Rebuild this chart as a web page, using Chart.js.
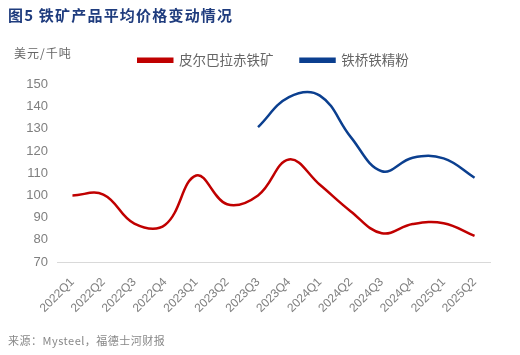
<!DOCTYPE html>
<html><head><meta charset="utf-8">
<script src="https://cdn.jsdelivr.net/npm/chart.js@4"></script>
<style>
html,body{margin:0;padding:0;background:#fff;}
#wrap{position:relative;width:520px;height:355px;overflow:hidden;}
#c{position:absolute;left:0;top:0;}
.t{position:absolute;white-space:nowrap;font-family:"Noto Sans CJK SC",sans-serif;}
#title{left:8px;top:4px;font-size:15px;font-weight:bold;color:#1F3C7E;letter-spacing:1.2px;}
#unit{left:14px;top:44px;font-size:12px;color:#666;letter-spacing:1px;}
#src{left:8px;top:332px;font-size:11px;color:#888;letter-spacing:0.5px;}
</style></head>
<body><div id="wrap">
<canvas id="c" width="520" height="355"></canvas>
<div class="t" id="title">图5 铁矿产品平均价格变动情况</div>
<div class="t" id="unit">美元/千吨</div>
<div class="t" id="src">来源：Mysteel，福德士河财报</div>
</div>
<script>
const categories = ["2022Q1","2022Q2","2022Q3","2022Q4","2023Q1","2023Q2","2023Q3","2023Q4","2024Q1","2024Q2","2024Q3","2024Q4","2025Q1","2025Q2"];
const pilbara = [100, 100.4, 87.3, 86.8, 109, 96, 100, 116.2, 104.8, 92.8, 83, 87.1, 87.5, 81.8];
const ironBridge = [null, null, null, null, null, null, 130.8, 144.3, 145, 126.3, 110.9, 117, 116.7, 108];
const seriesNames = ["皮尔巴拉赤铁矿", "铁桥铁精粉"];
const yMin = 70, yMax = 150, yStep = 10;

const legendPad = {
  id: 'legendPad',
  beforeLayout(chart){
    const lg = chart.legend;
    if (lg && !lg._wrapped){
      const f = lg.fit.bind(lg);
      lg.fit = function(){ f(); this.height += 7.5; };
      lg._wrapped = true;
    }
  }
};

new Chart(document.getElementById('c'), {
  type: 'line',
  data: {
    labels: categories,
    datasets: [
      {label: seriesNames[0], data: pilbara, borderColor: '#C00000', backgroundColor: '#C00000', borderWidth: 2.5, pointRadius: 0, tension: 0.4, fill: false},
      {label: seriesNames[1], data: ironBridge, borderColor: '#0B3F8F', backgroundColor: '#0B3F8F', borderWidth: 2.5, pointRadius: 0, tension: 0.4, fill: false}
    ]
  },
  options: {
    responsive: false,
    animation: false,
    devicePixelRatio: 1,
    layout: {padding: {left: 0, right: 30, top: 26.5, bottom: 0}},
    plugins: {
      legend: {
        display: true, position: 'top', align: 'center', fullSize: false,
        labels: {boxWidth: 34, boxHeight: 3, padding: 27, color: '#666',
                 font: {family: '"Noto Sans CJK SC", sans-serif', size: 13.5}}
      },
      tooltip: {enabled: false}
    },
    scales: {
      x: {
        offset: true,
        grid: {display: false, drawTicks: false},
        border: {display: true, color: '#D9D9D9', width: 1},
        ticks: {maxRotation: 45, minRotation: 45, color: '#7F7F7F', padding: 13,
                font: {family: '"Liberation Sans", Arial, sans-serif', size: 12}},
        afterFit(s){ s.height = 93; }
      },
      y: {
        min: yMin, max: yMax,
        grid: {display: false, drawTicks: false},
        border: {display: false},
        ticks: {stepSize: yStep, color: '#7F7F7F', padding: 9,
                font: {family: '"Liberation Sans", Arial, sans-serif', size: 13}},
        afterFit(s){ s.width = 57; }
      }
    }
  },
  plugins: [legendPad]
});
</script>
</body></html>
